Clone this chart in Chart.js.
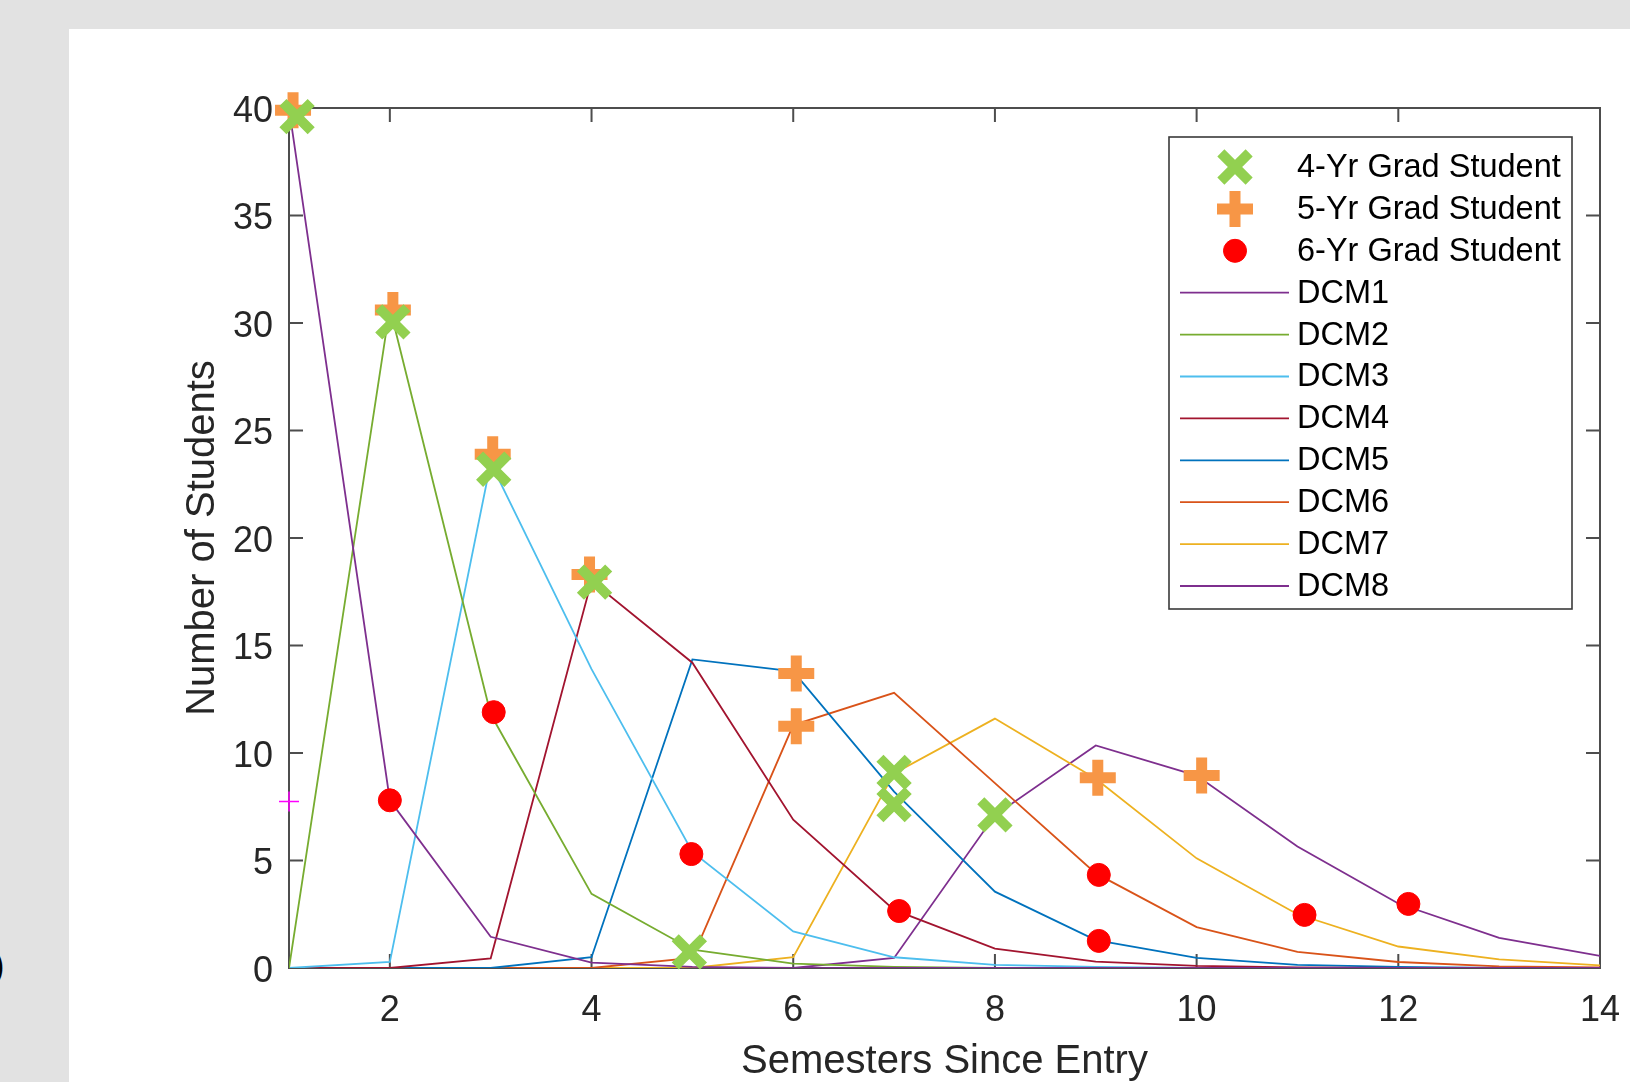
<!DOCTYPE html>
<html>
<head>
<meta charset="utf-8">
<script src="https://cdn.jsdelivr.net/npm/chart.js@4.4.0/dist/chart.umd.min.js"></script>
<style>
  html, body { margin: 0; padding: 0; background: #e2e2e2; overflow: hidden; }
  #paper { position: absolute; left: 69px; top: 29px; right: 0; bottom: 0; background: #fff; }
  #cut { position: absolute; left: -8px; top: 944px; font: 38px "Liberation Sans", Arial, sans-serif; color: #000; }
  #wrap { position: absolute; left: 0; top: 0; width: 1630px; height: 1082px; }
</style>
</head>
<body>
<div id="paper"></div>
<div id="cut">)</div>
<div id="wrap"><canvas id="gradChart" width="1630" height="1082"></canvas></div>
<script>
  const semesters = [1, 2, 3, 4, 5, 6, 7, 8, 9, 10, 11, 12, 13, 14];
  const dcm1 = [40, 7.8, 1.45, 0.25, 0.05, 0, 0, 0, 0, 0, 0, 0, 0, 0];
  const dcm2 = [0, 30.7, 11.8, 3.45, 0.85, 0.2, 0.05, 0, 0, 0, 0, 0, 0, 0];
  const dcm3 = [0, 0.28, 23.5, 13.9, 5.4, 1.7, 0.5, 0.15, 0.05, 0, 0, 0, 0, 0];
  const dcm4 = [0, 0, 0.45, 18, 14.2, 6.9, 2.7, 0.9, 0.3, 0.1, 0.03, 0, 0, 0];
  const dcm5 = [0, 0, 0, 0.5, 14.35, 13.8, 8.2, 3.55, 1.3, 0.47, 0.15, 0.05, 0, 0];
  const dcm6 = [0, 0, 0, 0, 0.47, 11.3, 12.8, 8.6, 4.4, 1.9, 0.75, 0.28, 0.08, 0.03];
  const dcm7 = [0, 0, 0, 0, 0, 0.5, 9.05, 11.6, 8.8, 5.1, 2.5, 1.0, 0.4, 0.12];
  const dcm8 = [0, 0, 0, 0, 0, 0, 0.47, 7.1, 10.35, 8.95, 5.65, 3.0, 1.4, 0.56];

  const grad4X = [1.08, 2.03, 3.03, 4.03, 4.97, 7.0, 7.0, 8.0];
  const grad4Y = [39.6, 30.05, 23.2, 17.95, 0.75, 9.1, 7.6, 7.12];
  const grad5X = [1.04, 2.03, 3.02, 3.98, 6.03, 6.03, 9.02, 10.05];
  const grad5Y = [39.9, 30.6, 23.9, 18.3, 13.7, 11.25, 8.85, 8.95];
  const grad6X = [2.0, 3.03, 4.99, 7.05, 9.03, 9.03, 11.07, 12.1];
  const grad6Y = [7.8, 11.9, 5.3, 2.65, 4.33, 1.26, 2.47, 2.98];
  const strayX = [1.0];
  const strayY = [7.75];

  const xTicks = [2, 4, 6, 8, 10, 12, 14];
  const yTicks = [0, 5, 10, 15, 20, 25, 30, 35, 40];

  const lineNames = ['DCM1', 'DCM2', 'DCM3', 'DCM4', 'DCM5', 'DCM6', 'DCM7', 'DCM8'];
  const lineColors = ['#7E2F8E', '#77AC30', '#4DBEEE', '#A2142F', '#0072BD', '#D95319', '#EDB120', '#7E2F8E'];
  const lineValues = [dcm1, dcm2, dcm3, dcm4, dcm5, dcm6, dcm7, dcm8];

  const FONT = '"Liberation Sans", Arial, Helvetica, sans-serif';
  const TEXT = '#262626';
  const AXIS = '#4d4d4d';

  const pairs = (xs, ys) => xs.map((x, i) => ({ x: x, y: ys[i] }));

  const markerSets = [
    { label: '4-Yr Grad Student', data: pairs(grad4X, grad4Y), pointStyle: 'crossRot',
      pointRadius: 20, pointBorderWidth: 10, borderColor: '#92D050', backgroundColor: '#92D050', inLegend: true },
    { label: '5-Yr Grad Student', data: pairs(grad5X, grad5Y), pointStyle: 'cross',
      pointRadius: 18, pointBorderWidth: 11, borderColor: '#F79646', backgroundColor: '#F79646', inLegend: true },
    { label: '6-Yr Grad Student', data: pairs(grad6X, grad6Y), pointStyle: 'circle',
      pointRadius: 11.5, pointBorderWidth: 1, borderColor: '#FF0000', backgroundColor: '#FF0000', inLegend: true },
    { label: '', data: pairs(strayX, strayY), pointStyle: 'cross',
      pointRadius: 10, pointBorderWidth: 1.5, borderColor: '#FF00FF', backgroundColor: '#FF00FF', inLegend: false }
  ].map(d => Object.assign(d, { showLine: false, clip: false }));

  const lineSets = lineNames.map((name, i) => ({
    label: name,
    data: pairs(semesters, lineValues[i]),
    showLine: true,
    borderColor: lineColors[i],
    backgroundColor: lineColors[i],
    borderWidth: 1.8,
    pointRadius: 0,
    tension: 0,
    inLegend: true
  }));

  // MATLAB-style box with inward ticks on all four sides
  const axesBox = {
    id: 'axesBox',
    beforeDatasetsDraw(chart) {
      const { ctx, chartArea: a, scales } = chart;
      ctx.save();
      ctx.strokeStyle = AXIS;
      ctx.lineWidth = 2;
      ctx.strokeRect(a.left, a.top, a.right - a.left, a.bottom - a.top);
      ctx.beginPath();
      xTicks.forEach(v => {
        const px = scales.x.getPixelForValue(v);
        ctx.moveTo(px, a.bottom); ctx.lineTo(px, a.bottom - 14);
        ctx.moveTo(px, a.top); ctx.lineTo(px, a.top + 14);
      });
      yTicks.forEach(v => {
        const py = scales.y.getPixelForValue(v);
        ctx.moveTo(a.left, py); ctx.lineTo(a.left + 14, py);
        ctx.moveTo(a.right, py); ctx.lineTo(a.right - 14, py);
      });
      ctx.stroke();
      ctx.restore();
    }
  };

  const boxLegend = {
    id: 'boxLegend',
    afterDatasetsDraw(chart) {
      const { ctx } = chart;
      const left = 1169, top = 137, right = 1572, bottom = 609;
      const rowTop = 167, rowGap = 41.9, markX = 1235, textX = 1297;
      ctx.save();
      ctx.fillStyle = '#fff';
      ctx.fillRect(left, top, right - left, bottom - top);
      ctx.strokeStyle = '#3a3a3a';
      ctx.lineWidth = 1.6;
      ctx.strokeRect(left, top, right - left, bottom - top);
      const items = chart.data.datasets.filter(d => d.inLegend);
      items.forEach((d, i) => {
        const y = rowTop + i * rowGap;
        if (d.showLine) {
          ctx.strokeStyle = d.borderColor;
          ctx.lineWidth = 1.8;
          ctx.beginPath();
          ctx.moveTo(1180, y); ctx.lineTo(1289, y);
          ctx.stroke();
        } else {
          ctx.strokeStyle = d.borderColor;
          ctx.fillStyle = d.backgroundColor;
          ctx.lineWidth = d.pointBorderWidth;
          Chart.helpers.drawPoint(ctx, {
            pointStyle: d.pointStyle, radius: d.pointRadius, rotation: 0, borderWidth: d.pointBorderWidth
          }, markX, y);
        }
        ctx.fillStyle = '#000';
        ctx.font = '32.5px ' + FONT;
        ctx.textAlign = 'left';
        ctx.textBaseline = 'middle';
        ctx.fillText(d.label, textX, y + 1);
      });
      ctx.restore();
    }
  };

  new Chart(document.getElementById('gradChart'), {
    type: 'scatter',
    data: { datasets: markerSets.concat(lineSets) },
    options: {
      responsive: false,
      animation: false,
      events: [],
      devicePixelRatio: 1,
      layout: { padding: { top: 108, right: 28, bottom: 0, left: 0 } },
      plugins: { legend: { display: false }, tooltip: { enabled: false } },
      scales: {
        x: {
          type: 'linear', min: 1, max: 14,
          grid: { display: false, drawTicks: false },
          border: { display: false },
          afterBuildTicks: s => { s.ticks = xTicks.map(v => ({ value: v })); },
          afterFit: s => { s.height = 114; s.paddingLeft = 0; s.paddingRight = 0; },
          ticks: { autoSkip: false, maxRotation: 0, padding: 21, color: TEXT, font: { family: FONT, size: 36 } },
          title: { display: true, text: 'Semesters Since Entry', color: TEXT,
                   font: { family: FONT, size: 40, lineHeight: 1 }, padding: { top: 0, bottom: 0 } }
        },
        y: {
          type: 'linear', min: 0, max: 40,
          grid: { display: false, drawTicks: false },
          border: { display: false },
          afterBuildTicks: s => { s.ticks = yTicks.map(v => ({ value: v })); },
          afterFit: s => { s.width = 289; s.paddingTop = 0; s.paddingBottom = 0; },
          ticks: { padding: 16, labelOffset: 4, color: TEXT, font: { family: FONT, size: 36 } },
          title: { display: true, text: 'Number of Students', color: TEXT,
                   font: { family: FONT, size: 40 }, padding: { top: 179, bottom: 0 } }
        }
      }
    },
    plugins: [axesBox, boxLegend]
  });
</script>
</body>
</html>
